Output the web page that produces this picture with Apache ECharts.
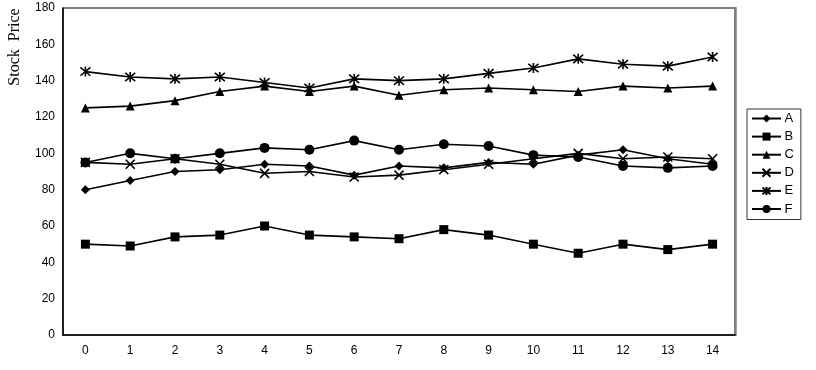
<!DOCTYPE html>
<html>
<head>
<meta charset="utf-8">
<script src="https://cdn.jsdelivr.net/npm/echarts@6/dist/echarts.min.js"></script>
<style>html,body{margin:0;padding:0;background:#fff;}#c{width:816px;height:370px;}</style>
</head>
<body>
<div id="c"></div>
<script>
const categories = ['0','1','2','3','4','5','6','7','8','9','10','11','12','13','14'];
const seriesNames = ['A','B','C','D','E','F'];
const valuesA = [80, 85, 90, 91, 94, 93, 88, 93, 92, 95, 94, 99, 102, 97, 94];
const valuesB = [50, 49, 54, 55, 60, 55, 54, 53, 58, 55, 50, 45, 50, 47, 50];
const valuesC = [125, 126, 129, 134, 137, 134, 137, 132, 135, 136, 135, 134, 137, 136, 137];
const valuesD = [95, 94, 97, 94, 89, 90, 87, 88, 91, 94, 97, 100, 97, 98, 97];
const valuesE = [145, 142, 141, 142, 139, 136, 141, 140, 141, 144, 147, 152, 149, 148, 153];
const valuesF = [95, 100, 97, 100, 103, 102, 107, 102, 105, 104, 99, 98, 93, 92, 93];
const yTicks = [0, 20, 40, 60, 80, 100, 120, 140, 160, 180];

const allValues = [valuesA, valuesB, valuesC, valuesD, valuesE, valuesF];
const symbols = [
  'diamond',
  'rect',
  'triangle',
  'path://M0,0L10,10M10,0L0,10',
  'path://M0,0L10,10M10,0L0,10M5,-1L5,11',
  'circle'
];
const symbolSizes = [9, 9, 9, 9, 10, 10];
const stroked = [false, false, false, true, true, false];

const chart = echarts.init(document.getElementById('c'));
const series = seriesNames.map((n, i) => ({
  name: n,
  type: 'line',
  data: allValues[i],
  symbol: symbols[i],
  symbolSize: symbolSizes[i],
  showAllSymbol: true,
  animation: false,
  lineStyle: { color: '#000', width: 1.6 },
  itemStyle: stroked[i]
    ? { color: '#fff', borderColor: '#000', borderWidth: 1.6, opacity: 1 }
    : { color: '#000', borderColor: '#000', borderWidth: 0 },
  emphasis: { disabled: true },
  z: 2
}));

chart.setOption({
  animation: false,
  textStyle: { fontFamily: 'Liberation Sans, Arial, sans-serif' },
  grid: { left: 63, right: 81, top: 8, bottom: 35, show: true, borderColor: '#000', borderWidth: 1, backgroundColor: '#fff' },
  xAxis: [{
    type: 'category',
    data: categories,
    boundaryGap: true,
    axisLine: { lineStyle: { color: '#000', width: 1.5 } },
    axisTick: { show: false },
    axisLabel: { color: '#000', fontSize: 12, margin: 10 },
    splitLine: { show: false }
  }],
  yAxis: [{
    type: 'value',
    min: yTicks[0],
    max: yTicks[yTicks.length - 1],
    interval: 20,
    axisLine: { show: true, lineStyle: { color: '#000', width: 1.5 } },
    axisTick: { show: false },
    axisLabel: { color: '#000', fontSize: 12, margin: 8 },
    splitLine: { show: false }
  }, {
    type: 'value',
    position: 'right',
    min: yTicks[0],
    max: yTicks[yTicks.length - 1],
    interval: 20,
    axisLine: { show: true, lineStyle: { color: '#808080', width: 2.5 } },
    axisTick: { show: false },
    axisLabel: { show: false },
    splitLine: { show: false }
  }],
  legend: {
    orient: 'vertical',
    left: 747,
    top: 109,
    itemWidth: 29,
    itemHeight: 10,
    itemGap: 5.1,
    padding: [3, 7, 4, 4],
    borderColor: '#333',
    borderWidth: 1,
    textStyle: { color: '#000', fontSize: 13, padding: [0, 0, 0, -1.5] },
    data: seriesNames
  },
  graphic: [{
    type: 'text',
    x: 15,
    y: 47,
    rotation: Math.PI / 2,
    style: {
      text: 'Stock  Price',
      font: '16px "Liberation Serif", "Times New Roman", serif',
      fill: '#000',
      textAlign: 'center',
      textVerticalAlign: 'middle'
    }
  }],
  series: series
});
</script>
</body>
</html>
